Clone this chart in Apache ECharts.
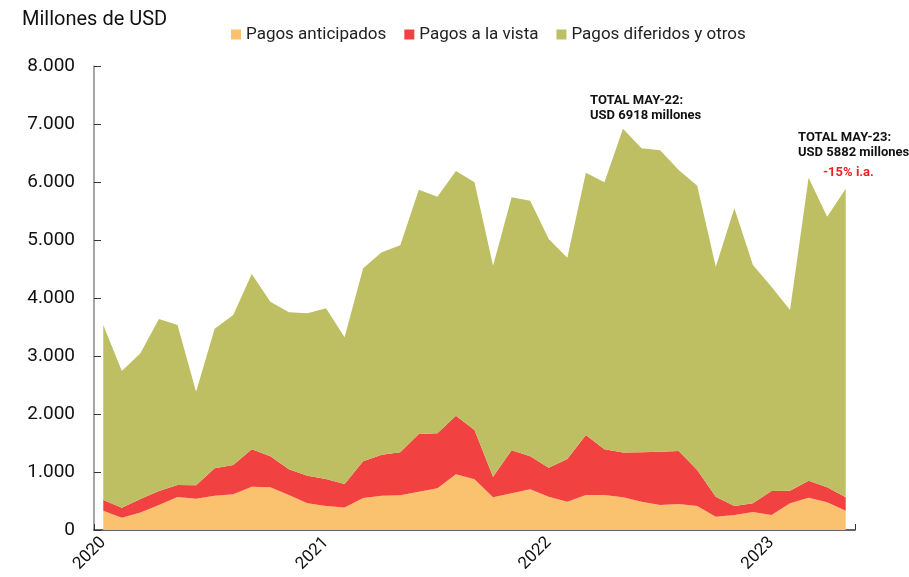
<!DOCTYPE html>
<html>
<head>
<meta charset="utf-8">
<script src="https://cdn.jsdelivr.net/npm/echarts@6/dist/echarts.min.js"></script>
<style>
  html, body { margin: 0; padding: 0; background: #fff; }
  #chart { width: 909px; height: 577px; }
</style>
</head>
<body>
<div id="chart"></div>
<script>
// meses ene-2020 a may-2023
const months = [];
for (let y = 2020; y <= 2023; y++) {
  for (let m = 1; m <= 12; m++) {
    if (y === 2023 && m > 5) break;
    months.push(y + '-' + String(m).padStart(2, '0'));
  }
}

const anticipados = [333, 213, 300, 431, 569, 540, 592, 615, 747, 736, 603, 460, 414, 390,
  552, 592, 598, 661, 718, 960, 874, 563, 632, 701, 575, 489, 603, 603, 565, 489, 431, 448,
  414, 230, 259, 310, 259, 460, 557, 477, 333];

const aLaVista = [184, 172, 234, 241, 207, 230, 471, 506, 644, 534, 443, 477, 465, 403,
  633, 707, 741, 994, 949, 1011, 850, 357, 742, 569, 500, 735, 1035, 788, 771, 850, 920, 914,
  620, 345, 155, 150, 413, 218, 294, 259, 230];

const diferidos = [3017, 2356, 2512, 2966, 2758, 1615, 2408, 2586, 3023, 2667, 2707, 2799,
  2943, 2529, 3326, 3488, 3569, 4213, 4080, 4219, 4270, 3637, 4362, 4408, 3942, 3471, 4523,
  4603, 5582, 5241, 5195, 4845, 4903, 3965, 5132, 4109, 3523, 3115, 5224, 4666, 5319];

const seriesNames = ['Pagos anticipados', 'Pagos a la vista', 'Pagos diferidos y otros'];
const colors = ['#FAC16F', '#F24141', '#BDBF62'];
const yTicks = [0, 1000, 2000, 3000, 4000, 5000, 6000, 7000, 8000];

const chart = echarts.init(document.getElementById('chart'));

function area(name, data, color) {
  return {
    name: name,
    type: 'line',
    stack: 'total',
    data: data,
    showSymbol: false,
    symbol: 'none',
    lineStyle: { width: 0 },
    areaStyle: { color: color, opacity: 1 },
    itemStyle: { color: color }
  };
}

chart.setOption({
  animation: false,
  textStyle: { fontFamily: 'Roboto' },
  grid: { left: 94, right: 54, top: 66, bottom: 47 },
  legend: {
    left: 226,
    top: 21,
    icon: 'rect',
    itemWidth: 10,
    itemHeight: 10,
    itemGap: 18,
    textStyle: { fontSize: 17, color: '#222', fontFamily: 'Roboto' },
    data: seriesNames
  },
  xAxis: {
    type: 'category',
    data: months,
    boundaryGap: true,
    axisLine: { lineStyle: { color: '#333', width: 1.5 } },
    axisTick: { show: true, inside: true, length: 6, interval: 11, lineStyle: { color: '#333' } },
    axisLabel: {
      interval: 11,
      rotate: 45,
      fontSize: 17,
      color: '#111',
      margin: 10,
      formatter: v => v.slice(0, 4)
    }
  },
  yAxis: {
    type: 'value',
    min: yTicks[0],
    max: yTicks[yTicks.length - 1],
    interval: 1000,
    splitLine: { show: false },
    axisLine: { show: true, lineStyle: { color: '#888', width: 1.5 } },
    axisTick: { show: true, inside: true, length: 7, lineStyle: { color: '#333' } },
    axisLabel: {
      fontSize: 19,
      color: '#111',
      margin: 19,
      formatter: v => v.toLocaleString('de-DE')
    }
  },
  series: [
    area(seriesNames[0], anticipados, colors[0]),
    area(seriesNames[1], aLaVista, colors[1]),
    area(seriesNames[2], diferidos, colors[2])
  ],
  graphic: [
    { type: 'text', left: 22, top: 10, style: { text: 'Millones de USD', fontSize: 20, fill: '#111', fontFamily: 'Roboto' } },
    { type: 'text', left: 590, top: 93, style: { text: 'TOTAL MAY-22:\nUSD 6918 millones', fontSize: 13, fontWeight: 'bold', lineHeight: 15, fill: '#111', fontFamily: 'Roboto' } },
    { type: 'text', left: 798, top: 130, style: { text: 'TOTAL MAY-23:\nUSD 5882 millones', fontSize: 13, fontWeight: 'bold', lineHeight: 15, fill: '#111', fontFamily: 'Roboto' } },
    { type: 'text', left: 823, top: 166, style: { text: '-15% i.a.', fontSize: 13, fontWeight: 'bold', fill: '#F01E1E', fontFamily: 'Roboto' } }
  ]
});
</script>
</body>
</html>
